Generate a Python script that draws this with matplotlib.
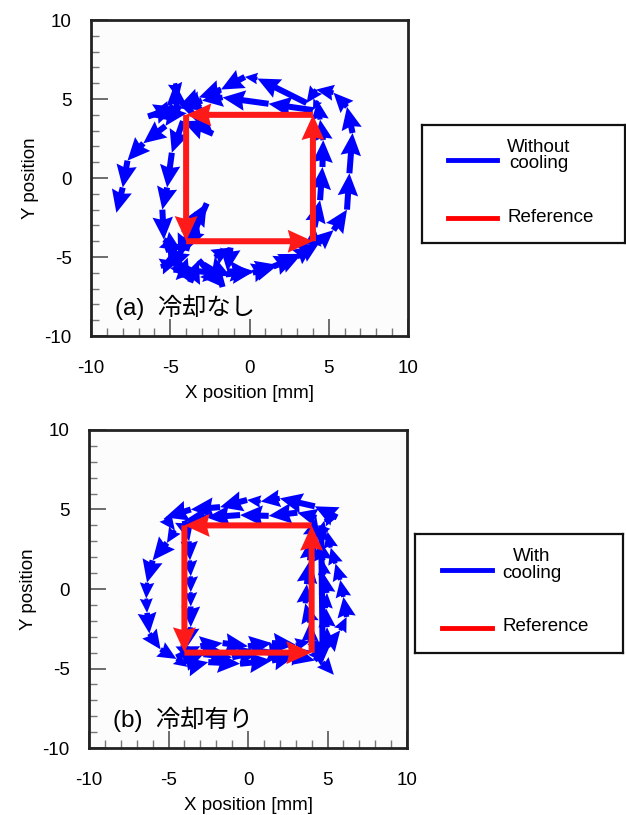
import matplotlib.pyplot as plt
from matplotlib.ticker import MultipleLocator
import numpy as np

plt.rcParams['font.family'] = ['Liberation Sans', 'Noto Sans CJK JP', 'DejaVu Sans']
plt.rcParams['axes.unicode_minus'] = False

# (a) without cooling - measured tool path
xa = [-5.3, -4.2, -2.7, -4.0, -3.3, -4.5, -5.6, -4.5, -3.75, -3.2, -1.7, -2.2, -1.2, -1.4,
      0.2, 1.5, 3.0, 4.0, 4.1, 4.45, 4.6, 4.65, 4.45, 4.3, 4.0, 1.2, -1.7, -3.0, -4.4, -6.4,
      -4.6, -4.7, -4.5, -2.3, -4.2, -4.9, -5.2, -5.5, -5.4, -4.3, -4.8, -3.2, -1.5, 0.3, 1.8,
      3.3, 4.4, 5.3, 6.15, 6.3, 6.5, 6.15, 5.3, 4.2, 3.6, 0.5, -0.3, -1.8, -3.2, -4.4, -5.3,
      -6.7, -7.7, -8.0, -8.4]
ya = [-4.6, -4.2, -1.6, -4.6, -2.2, -5.0, -5.6, -5.3, -6.6, -5.2, -6.9, -5.0, -4.4, -5.9,
      -6.0, -5.6, -5.0, -4.3, -3.1, -1.4, 0.7, 2.4, 3.7, 4.9, 4.3, 4.7, 5.1, 4.9, 4.4, 3.9,
      4.5, 6.0, 5.0, 2.8, 3.6, 1.6, -0.6, -2.0, -3.9, -4.6, -5.8, -5.9, -6.1, -5.9, -5.5,
      -4.8, -4.1, -3.3, -2.0, 0.3, 2.85, 4.5, 5.4, 5.6, 4.75, 6.3, 6.4, 5.6, 5.1, 4.6, 3.3,
      2.2, 1.1, -0.6, -2.2]

# (b) with cooling
xb = [-4.5, -3.0, -1.6, 0.0, 1.5, 3.0, 3.9, 3.9, 3.6, 3.7, 3.9, 4.0, 4.3, 3.1, 1.3, -0.5,
      -2.6, -4.0, -3.7, -3.65, -3.6, -3.6, -3.6, -3.6, -3.8, -4.0, -2.8, -1.0, 0.75, 2.6, 4.0,
      4.97, 4.97, 4.9, 4.97, 4.8, 4.7, 4.5, 4.8, 5.6, 4.2, 2.0, 0.8, -0.06, -1.76, -3.6, -5.2,
      -4.6, -5.1, -6.0, -6.35, -6.4, -6.35, -6.2, -5.5, -4.5, -3.8, -2.5, -0.5, 1.5, 3.0, 4.2,
      5.0, 5.8, 6.2, 6.0, 5.8, 5.5, 5.2, 5.0, 4.6, 4.7, 5.4]
yb = [-4.3, -3.6, -3.4, -3.6, -3.4, -3.5, -3.3, -2.1, -0.9, 0.3, 1.8, 3.3, 4.5, 4.8, 4.6,
      4.65, 4.5, 4.3, 3.0, 1.8, 0.8, -0.2, -1.1, -2.4, -3.6, -4.6, -4.1, -4.3, -3.9, -4.2,
      -3.9, -3.3, -2.4, -1.2, -0.25, 0.9, 1.8, 3.1, 4.3, 4.5, 5.2, 5.7, 5.5, 5.6, 5.15, 5.0,
      4.5, 3.7, 2.9, 1.8, 0.4, -0.6, -1.5, -2.8, -3.8, -4.4, -4.9, -4.6, -4.7, -4.5, -4.2,
      -4.5, -3.6, -2.6, -1.76, -0.5, 0.57, 1.6, 2.6, 3.6, 4.0, -4.6, -5.4]

# reference square path (counter clockwise)
x_ref = [-4, 4, 4, -4, -4]
y_ref = [-4, -4, 4, 4, -4]

ticks = [-10, -5, 0, 5, 10]


def draw_path(ax, x, y, color, width, head, zorder):
    x = np.array(x)
    y = np.array(y)
    ax.quiver(x[:-1], y[:-1], np.diff(x), np.diff(y), angles='xy', scale_units='xy', scale=1,
              color=color, width=width, headwidth=head, headlength=head * 1.1,
              headaxislength=head, minlength=0.5, zorder=zorder)


def make_panel(fig, rect, x, y, label, leg_rect, leg_text):
    ax = fig.add_axes(rect)
    ax.set_facecolor('#fcfcfc')
    draw_path(ax, x, y, '#0000ff', 0.019, 3.4, 2)
    draw_path(ax, x_ref, y_ref, '#ff1a1a', 0.019, 3.8, 3)
    ax.set_xlim(-10, 10)
    ax.set_ylim(-10, 10)
    ax.set_xticks(ticks)
    ax.set_yticks(ticks)
    ax.xaxis.set_minor_locator(MultipleLocator(1))
    ax.yaxis.set_minor_locator(MultipleLocator(1))
    ax.tick_params(which='major', direction='in', length=12, width=1.2, color='#555555',
                   labelsize=13.5, top=False, right=False)
    ax.tick_params(which='minor', direction='in', length=6, width=1, color='#777777',
                   top=False, right=False)
    ax.tick_params(axis='x', pad=17)
    ax.tick_params(axis='y', pad=14)
    for s in ax.spines.values():
        s.set_linewidth(2)
        s.set_color('#222222')
    ax.set_xlabel('X position [mm]', fontsize=13.5)
    ax.set_ylabel('Y position', fontsize=13.5)
    ax.xaxis.set_label_coords(0.5, -0.155)
    ax.yaxis.set_label_coords(-0.165, 0.5)
    ax.text(-8.5, -8.2, label, fontsize=17.5, ha='left', va='center', zorder=5)

    # legend box
    lg = fig.add_axes(leg_rect)
    lg.set_xlim(0, 1)
    lg.set_ylim(0, 1)
    lg.set_xticks([])
    lg.set_yticks([])
    for s in lg.spines.values():
        s.set_linewidth(1.6)
        s.set_color('#111111')
    lg.plot([0.13, 0.37], [0.70, 0.70], color='#0000ff', lw=3.5)
    lg.plot([0.13, 0.37], [0.21, 0.21], color='#ff0000', lw=3.5)
    lg.text(0.42, 0.74, leg_text, fontsize=13.5, ha='left', va='center',
            multialignment='center', linespacing=0.95)
    lg.text(0.42, 0.22, 'Reference', fontsize=13.5, ha='left', va='center')
    return ax


fig = plt.figure(figsize=(6.26, 8.15), dpi=100)
make_panel(fig, [0.1454, 0.5877, 0.5064, 0.3877], xa, ya, '(a)  冷却なし',
           [0.674, 0.7018, 0.324, 0.1448], 'Without\ncooling')
make_panel(fig, [0.1422, 0.0822, 0.508, 0.3902], xb, yb, '(b)  冷却有り',
           [0.663, 0.1988, 0.332, 0.146], 'With\ncooling')

plt.savefig('out.png', dpi=100)
